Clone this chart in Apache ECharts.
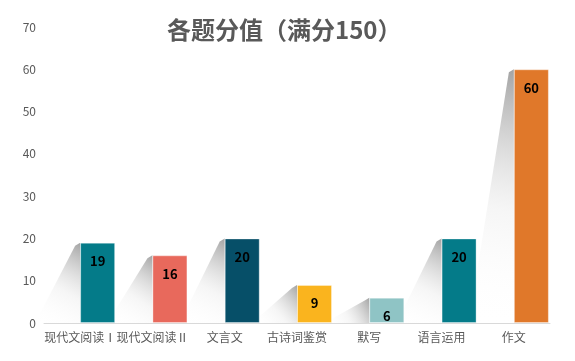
<!DOCTYPE html>
<html>
<head>
<meta charset="utf-8">
<script src="https://cdn.jsdelivr.net/npm/echarts@6/dist/echarts.min.js"></script>
<style>html,body{margin:0;padding:0;background:#fff}#c{width:575px;height:361px}</style>
</head>
<body>
<div id="c"></div>
<script>
var categories = ['现代文阅读Ⅰ', '现代文阅读Ⅱ', '文言文', '古诗词鉴赏', '默写', '语言运用', '作文'];
var values = [19, 16, 20, 9, 6, 20, 60];
var barColors = ['#047B89', '#E8695C', '#064F68', '#FAB41E', '#8FC4C5', '#047B89', '#E0782A'];
var titleText = '各题分值（满分150）';

var chart = echarts.init(document.getElementById('c'));
var FONT = '"Noto Sans CJK SC", "Microsoft YaHei", sans-serif';

chart.setOption({
  animation: false,
  backgroundColor: '#ffffff',
  title: {
    text: titleText,
    left: 162,
    top: 13,
    textStyle: { fontFamily: FONT, fontSize: 24, fontWeight: 'bold', color: '#595959' }
  },
  grid: { left: 44, right: 25, top: 27, bottom: 38 },
  xAxis: {
    type: 'category',
    data: categories,
    axisLine: { lineStyle: { color: '#d9d9d9', width: 1 } },
    axisTick: { show: false },
    axisLabel: { interval: 0, color: '#595959', fontSize: 12, fontFamily: FONT, margin: 8 }
  },
  yAxis: {
    type: 'value',
    min: 0, max: 70, interval: 10,
    axisLine: { show: false },
    axisTick: { show: false },
    splitLine: { show: false },
    axisLabel: { color: '#595959', fontSize: 12, fontFamily: FONT, margin: 8 }
  },
  series: [
    {
      type: 'custom',
      z: 1,
      silent: true,
      data: values.map(function (v, i) { return [i, v]; }),
      renderItem: function (params, api) {
        var i = api.value(0), v = api.value(1);
        var top = api.coord([i, v]);
        var base = api.coord([i, 0]);
        var x = top[0];
        return {
          type: 'polygon',
          shape: { points: [[x, top[1]], [x - 5, top[1] + 3], [x - 45, base[1]], [x, base[1]]] },
          style: {
            fill: new echarts.graphic.LinearGradient(1, 0, 0, 1, [
              { offset: 0, color: 'rgba(140,140,140,0.8)' },
              { offset: 0.55, color: 'rgba(225,225,225,0.3)' },
              { offset: 1, color: 'rgba(255,255,255,0)' }
            ])
          }
        };
      }
    },
    {
      type: 'bar',
      barWidth: 35,
      barGap: '0%',
      silent: true,
      itemStyle: { color: 'rgba(0,0,0,0)' },
      data: values.map(function () { return 0; })
    },
    {
      type: 'bar',
      barWidth: 35,
      barGap: '0%',
      z: 3,
      data: values.map(function (v, i) {
        return { value: v, itemStyle: { color: barColors[i], borderColor: 'rgba(255,255,255,0.35)', borderWidth: 1 } };
      }),
      label: {
        show: true,
        position: 'insideTop',
        distance: 12,
        color: '#000',
        fontWeight: 'bold',
        fontSize: 13,
        fontFamily: FONT
      }
    }
  ]
});
</script>
</body>
</html>
